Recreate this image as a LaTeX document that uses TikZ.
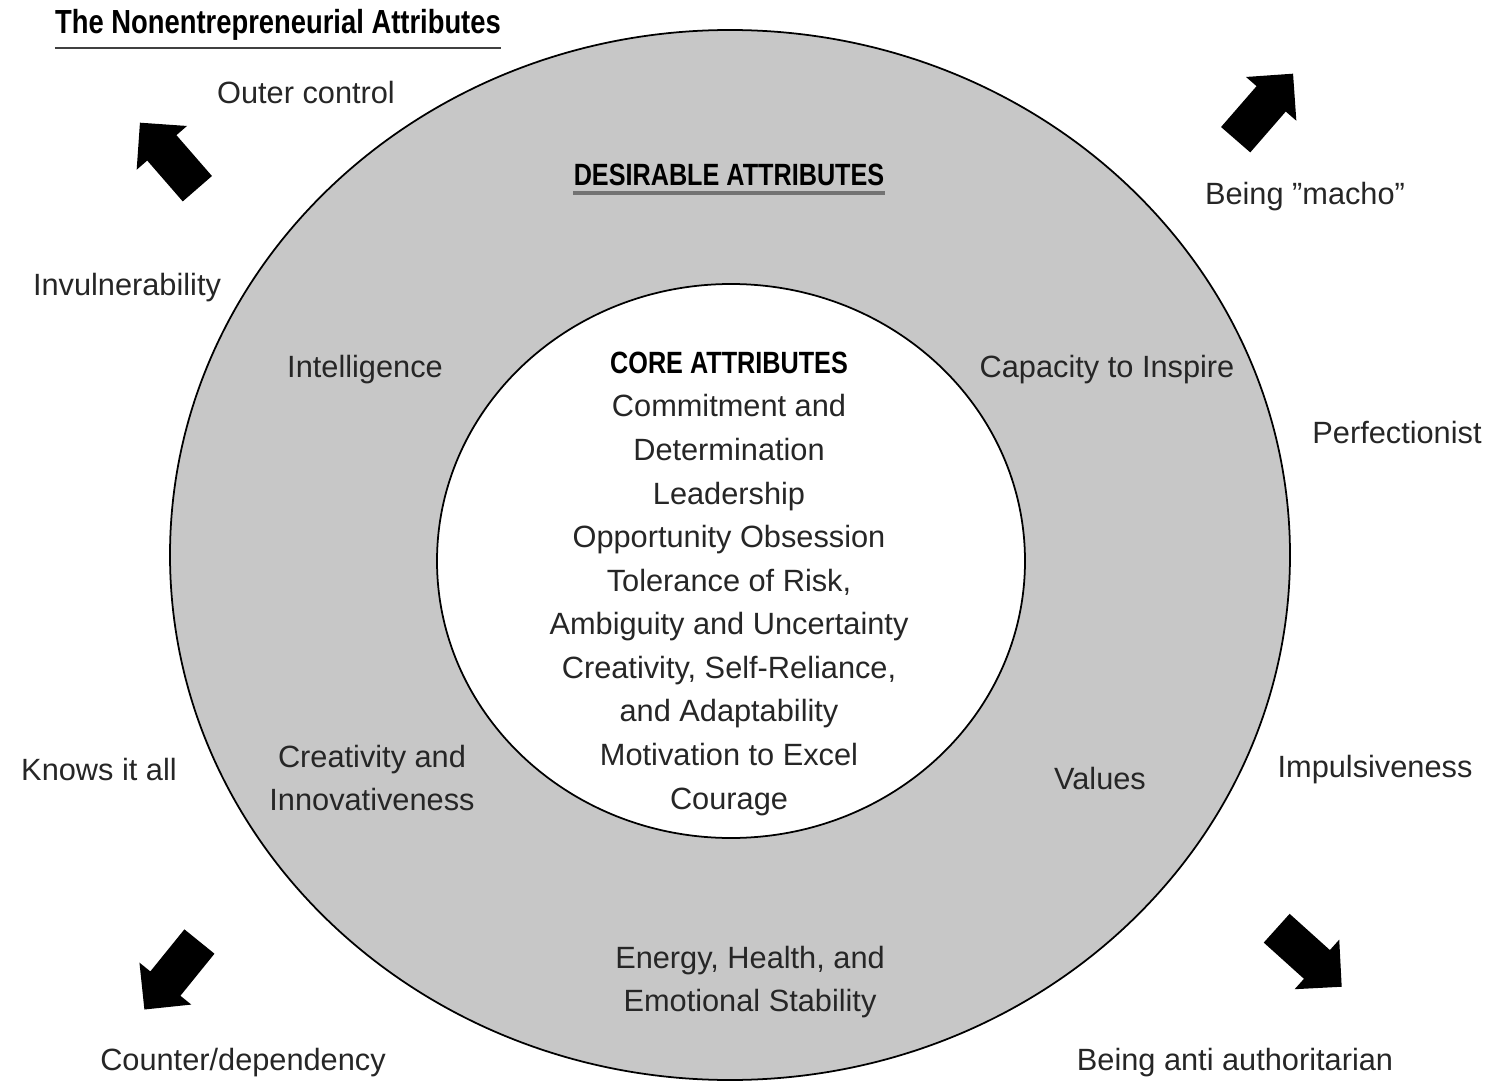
\documentclass[tikz,border=0pt]{standalone}
\usepackage{fontspec}
\setmainfont{Liberation Sans}
\newfontfamily\narrowsans[FakeStretch=0.82]{Liberation Sans}
\usetikzlibrary{shapes.arrows}

\begin{document}
\begin{tikzpicture}[x=0.02cm,y=-0.02cm,
  lbl/.style={font=\fontsize{17.5}{24.8}\selectfont, text=black!85, align=center, inner sep=0pt},
  ttl/.style={font=\narrowsans\bfseries\fontsize{17.5}{24.8}\selectfont, inner sep=0pt},
  fatarrow/.style={single arrow, fill=black, draw=none, inner xsep=0pt, inner ysep=0.38cm,
    minimum height=1.75cm, single arrow head extend=0.28cm}]

\useasboundingbox (0,0) rectangle (1488,1081);

%anillo de los atributos deseables
\draw [line width=1pt, fill=black!22] (730,555) ellipse [x radius=560, y radius=525];
%circulo de los atributos centrales
\draw [line width=1pt, fill=white] (731,561) ellipse [x radius=294, y radius=277];

%titulo con su subrayado
\node [ttl, font=\narrowsans\bfseries\fontsize{19}{24}\selectfont] (titulo) at (278,25) {The Nonentrepreneurial Attributes};
\draw [black!75, line width=1.2pt] ([yshift=-4pt]titulo.south west) -- ([yshift=-4pt]titulo.south east);

%atributos deseables
\node [ttl] (deseables) at (729,175) {DESIRABLE ATTRIBUTES};
\draw [black!55, line width=2.2pt] ([yshift=-4pt]deseables.south west) -- ([yshift=-4pt]deseables.south east);
\node [lbl] (intel) at (365,370) {Intelligence};
\node [lbl] (inspira) at (1107,370) {Capacity to Inspire};
\node [lbl] (creat) at (372,778) {Creativity and\\Innovativeness};
\node [lbl] (valores) at (1100,779) {Values};
\node [lbl] (energia) at (750,982) {Energy, Health, and\\Emotional Stability};

%atributos centrales
\node [ttl] (nucleo) at (729,363) {CORE ATTRIBUTES};
\node [lbl] (lista) at (729,605) {Commitment and\\Determination\\Leadership\\Opportunity Obsession\\Tolerance of Risk,\\Ambiguity and Uncertainty\\Creativity, Self-Reliance,\\and Adaptability\\Motivation to Excel\\Courage};

%atributos no emprendedores
\node [lbl] (control) at (306,93) {Outer control};
\node [lbl] (invul) at (127,288) {Invulnerability};
\node [lbl] (macho) at (1305,197) {Being "macho"};
\node [lbl] (perfec) at (1397,433) {Perfectionist};
\node [lbl] (sabelo) at (99,770) {Knows it all};
\node [lbl] (impul) at (1375,770) {Impulsiveness};
\node [lbl] (contra) at (243,1063) {Counter/dependency};
\node [lbl] (anti) at (1235,1063) {Being anti authoritarian};

%flechas hacia afuera
\foreach \nombre/\x/\y/\ang in {flechaNO/175/163/131, flechaNE/1258/114/49,
    flechaSO/178/968/231, flechaSE/1302/951/-42}
  \node [fatarrow, rotate=\ang] (\nombre) at (\x,\y) {};
\end{tikzpicture}
\end{document}
